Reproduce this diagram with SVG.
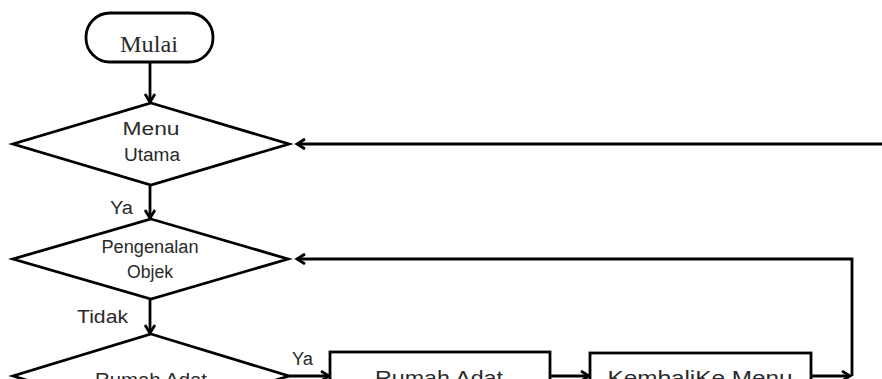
<svg xmlns="http://www.w3.org/2000/svg" width="882" height="379" viewBox="0 0 882 379">
  <style>
    .shape { fill: #ffffff; stroke: #000000; stroke-width: 2.8; }
    .line { fill: none; stroke: #000000; stroke-width: 2.8; }
    .lbl { font-family: "Liberation Sans", Arial, sans-serif; font-size: 18px; fill: #2a2a2a; }
    .big { font-family: "Liberation Sans", Arial, sans-serif; font-size: 21px; fill: #2a2a2a; }
    .serif { font-family: "Liberation Serif", "Times New Roman", serif; font-size: 24px; fill: #2a2a2a; }
  </style>
  <defs>
    <marker id="arrow" markerUnits="userSpaceOnUse" markerWidth="14" markerHeight="14" refX="10" refY="6" orient="auto">
      <path d="M2,1 L10,6 L2,11" fill="none" stroke="#000000" stroke-width="2.8"/>
    </marker>
  </defs>
  <rect width="882" height="379" fill="#ffffff"/>

  <!-- connectors -->
  <g id="connectors">
    <line class="line" x1="150" y1="62" x2="150" y2="102" marker-end="url(#arrow)"/>
    <line class="line" x1="150" y1="185" x2="150" y2="218" marker-end="url(#arrow)"/>
    <line class="line" x1="150" y1="299" x2="150" y2="333" marker-end="url(#arrow)"/>
    <line class="line" x1="882" y1="144" x2="297" y2="144" marker-end="url(#arrow)"/>
    <polyline class="line" points="852,376 852,259 297,259" marker-end="url(#arrow)"/>
    <line class="line" x1="289" y1="376" x2="329" y2="376" marker-end="url(#arrow)"/>
    <line class="line" x1="550" y1="376" x2="589" y2="376" marker-end="url(#arrow)"/>
    <line class="line" x1="811" y1="376" x2="850" y2="376" marker-end="url(#arrow)"/>
    <text class="lbl" x="110" y="214" textLength="23" lengthAdjust="spacingAndGlyphs">Ya</text>
    <text class="lbl" x="77" y="323" textLength="51" lengthAdjust="spacingAndGlyphs">Tidak</text>
    <text class="lbl" x="292" y="365" textLength="21" lengthAdjust="spacingAndGlyphs">Ya</text>
  </g>

  <!-- start terminal -->
  <g id="mulai">
    <rect class="shape" x="86" y="13" width="127" height="49" rx="24" ry="24"/>
    <text class="serif" x="149" y="52" text-anchor="middle" textLength="58" lengthAdjust="spacingAndGlyphs">Mulai</text>
  </g>

  <!-- main menu decision -->
  <g id="menu-utama">
    <polygon class="shape" points="151,103 289,144 151,185 13,144"/>
    <text class="lbl" x="151" y="135" text-anchor="middle" textLength="57" lengthAdjust="spacingAndGlyphs">Menu</text>
    <text class="lbl" x="152" y="161" text-anchor="middle" textLength="56" lengthAdjust="spacingAndGlyphs">Utama</text>
  </g>

  <!-- object introduction decision -->
  <g id="pengenalan-objek">
    <polygon class="shape" points="151,219 288,259 151,299 13,259"/>
    <text class="lbl" x="150" y="253" text-anchor="middle" textLength="97" lengthAdjust="spacingAndGlyphs">Pengenalan</text>
    <text class="lbl" x="150" y="278" text-anchor="middle" textLength="46" lengthAdjust="spacingAndGlyphs">Objek</text>
  </g>

  <!-- traditional house decision -->
  <g id="rumah-adat-decision">
    <polygon class="shape" points="151,334 289,376 151,418 13,376"/>
    <text class="lbl" x="151" y="386" text-anchor="middle" textLength="112" lengthAdjust="spacingAndGlyphs">Rumah Adat</text>
  </g>

  <!-- traditional house process -->
  <g id="rumah-adat">
    <rect class="shape" x="330" y="352" width="220" height="60"/>
    <text class="big" x="439" y="385" text-anchor="middle" textLength="128" lengthAdjust="spacingAndGlyphs">Rumah Adat</text>
  </g>

  <!-- back to menu process -->
  <g id="kembali-ke-menu">
    <rect class="shape" x="590" y="353" width="221" height="60"/>
    <text class="big" x="700" y="385" text-anchor="middle" textLength="185" lengthAdjust="spacingAndGlyphs">KembaliKe Menu</text>
  </g>
</svg>
